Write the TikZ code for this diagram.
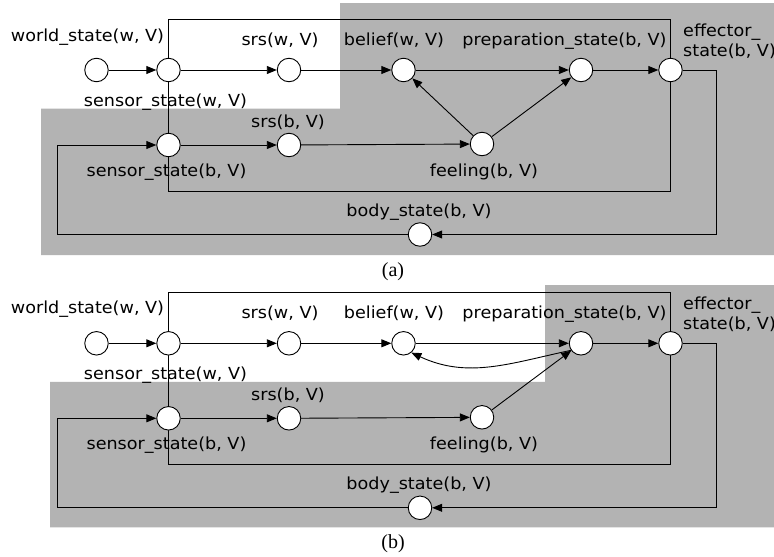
\documentclass[tikz,border=0pt]{standalone}
\usepackage{fontspec}
\setmainfont{DejaVu Sans}[FakeStretch=1.06]
\newfontfamily\capfont{Liberation Serif}
\usetikzlibrary{arrows.meta,backgrounds}
\definecolor{areagray}{RGB}{179,179,179}

\tikzset{
  state/.style={circle, draw, fill=white, minimum size=23.5pt, inner sep=0pt, line width=0.9pt},
  lbl/.style={font=\fontsize{16.6}{20}\selectfont, anchor=base, inner sep=0pt},
  lblw/.style={lbl, anchor=base west},
  arr/.style={-{Triangle[length=10pt,width=8pt]}, line width=0.9pt},
  frame/.style={line width=0.9pt},
  region/.style={fill=areagray},
  caption/.style={font=\capfont\fontsize{20}{22}\selectfont, anchor=base, inner sep=0pt}
}

\begin{document}
\begin{tikzpicture}[x=1pt,y=-1pt]
\useasboundingbox (0,0) rectangle (774,557);

% ---------------- panel (a) ----------------
\node[state] (a-world) at (96.5,70) {};
\node[state] (a-sw)    at (168.5,70) {};
\node[state] (a-srsw)  at (289,70) {};
\node[state] (a-bel)   at (403.5,70) {};
\node[state] (a-prep)  at (581,70) {};
\node[state] (a-eff)   at (670.5,70) {};
\node[state] (a-sb)    at (168.5,145) {};
\node[state] (a-srsb)  at (289,145) {};
\node[state] (a-feel)  at (482,144) {};
\node[state] (a-body)  at (420,234.5) {};
\coordinate (a-lft) at (57.5,190);

\begin{pgfonlayer}{background}
  \path[region] (41,108.5) -- (340,108.5) -- (340,3) -- (774,3) -- (774,255) -- (41,255) -- cycle;
  \draw[frame] (a-sw |- 0,19) rectangle (a-eff |- 0,191);
\end{pgfonlayer}

\node[lbl]  (a-l-world) at (87.5,41)   {world\_state(w, V)};
\node[lbl]  (a-l-sw)    at (165.5,106.5) {sensor\_state(w, V)};
\node[lbl]  (a-l-srsw)  at (280,45.5)  {srs(w, V)};
\node[lbl]  (a-l-bel)   at (394,45.5)  {belief(w, V)};
\node[lbl]  (a-l-prep)  at (564.5,45.5) {preparation\_state(b, V)};
\node[lblw] (a-l-eff1)  at (683,36.5)  {effector\_};
\node[lblw] (a-l-eff2)  at (683,56.5)  {state(b, V)};
\node[lbl]  (a-l-srsb)  at (288,127)   {srs(b, V)};
\node[lbl]  (a-l-sb)    at (166.5,176) {sensor\_state(b, V)};
\node[lbl]  (a-l-feel)  at (484,176)   {feeling(b, V)};
\node[lbl]  (a-l-body)  at (419,216)   {body\_state(b, V)};
\node[caption] (a-cap)  at (393,276)   {(a)};

\draw[arr] (a-world) -- (a-sw);
\draw[arr] (a-sw) -- (a-srsw);
\draw[arr] (a-srsw) -- (a-bel);
\draw[arr] (a-bel) -- (a-prep);
\draw[arr] (a-prep) -- (a-eff);
\draw[arr] (a-sb) -- (a-srsb);
\draw[arr] (a-srsb) -- (a-feel);
\draw[arr] (a-feel) -- (a-bel);
\draw[arr] (a-feel) -- (a-prep);
\draw[arr] (a-eff.east) -- ++(33.5,0) |- (a-body.east);
\draw[arr] (a-body.west) -| (a-lft) |- (a-sb.west);

% ---------------- panel (b) ----------------
\begin{scope}[yshift=-273.3pt]
\node[state] (b-world) at (96.5,70) {};
\node[state] (b-sw)    at (168.5,70) {};
\node[state] (b-srsw)  at (289,70) {};
\node[state] (b-bel)   at (403.5,70) {};
\node[state] (b-prep)  at (581,70) {};
\node[state] (b-eff)   at (670.5,70) {};
\node[state] (b-sb)    at (168.5,145) {};
\node[state] (b-srsb)  at (289,145) {};
\node[state] (b-feel)  at (482,144) {};
\node[state] (b-body)  at (420,234.5) {};
\coordinate (b-lft) at (57.5,190);

\begin{pgfonlayer}{background}
  \path[region] (50,108.5) -- (545,108.5) -- (545,11.7) -- (774,11.7) -- (774,254) -- (50,254) -- cycle;
  \draw[frame] (b-sw |- 0,19) rectangle (b-eff |- 0,191);
\end{pgfonlayer}

\node[lbl]  (b-l-world) at (87.5,40)   {world\_state(w, V)};
\node[lbl]  (b-l-sw)    at (165.5,106.5) {sensor\_state(w, V)};
\node[lbl]  (b-l-srsw)  at (280,45.5)  {srs(w, V)};
\node[lbl]  (b-l-bel)   at (394,45.5)  {belief(w, V)};
\node[lbl]  (b-l-prep)  at (564.5,45.5) {preparation\_state(b, V)};
\node[lblw] (b-l-eff1)  at (683,36.5)  {effector\_};
\node[lblw] (b-l-eff2)  at (683,56.5)  {state(b, V)};
\node[lbl]  (b-l-srsb)  at (288,127)   {srs(b, V)};
\node[lbl]  (b-l-sb)    at (166.5,176) {sensor\_state(b, V)};
\node[lbl]  (b-l-feel)  at (484,176)   {feeling(b, V)};
\node[lbl]  (b-l-body)  at (419,216)   {body\_state(b, V)};
\node[caption] (b-cap)  at (393,275)   {(b)};

\draw[arr] (b-world) -- (b-sw);
\draw[arr] (b-sw) -- (b-srsw);
\draw[arr] (b-srsw) -- (b-bel);
\draw[arr] (b-bel) -- (b-prep);
\draw[arr] (b-prep) -- (b-eff);
\draw[arr] (b-sb) -- (b-srsb);
\draw[arr] (b-srsb) -- (b-feel);
\draw[arr] (b-feel) -- (b-prep);
\draw[arr] (b-prep.215) to[out=192,in=-25] (b-bel.-50);
\draw[arr] (b-eff.east) -- ++(33.5,0) |- (b-body.east);
\draw[arr] (b-body.west) -| (b-lft) |- (b-sb.west);
\end{scope}
\end{tikzpicture}
\end{document}
